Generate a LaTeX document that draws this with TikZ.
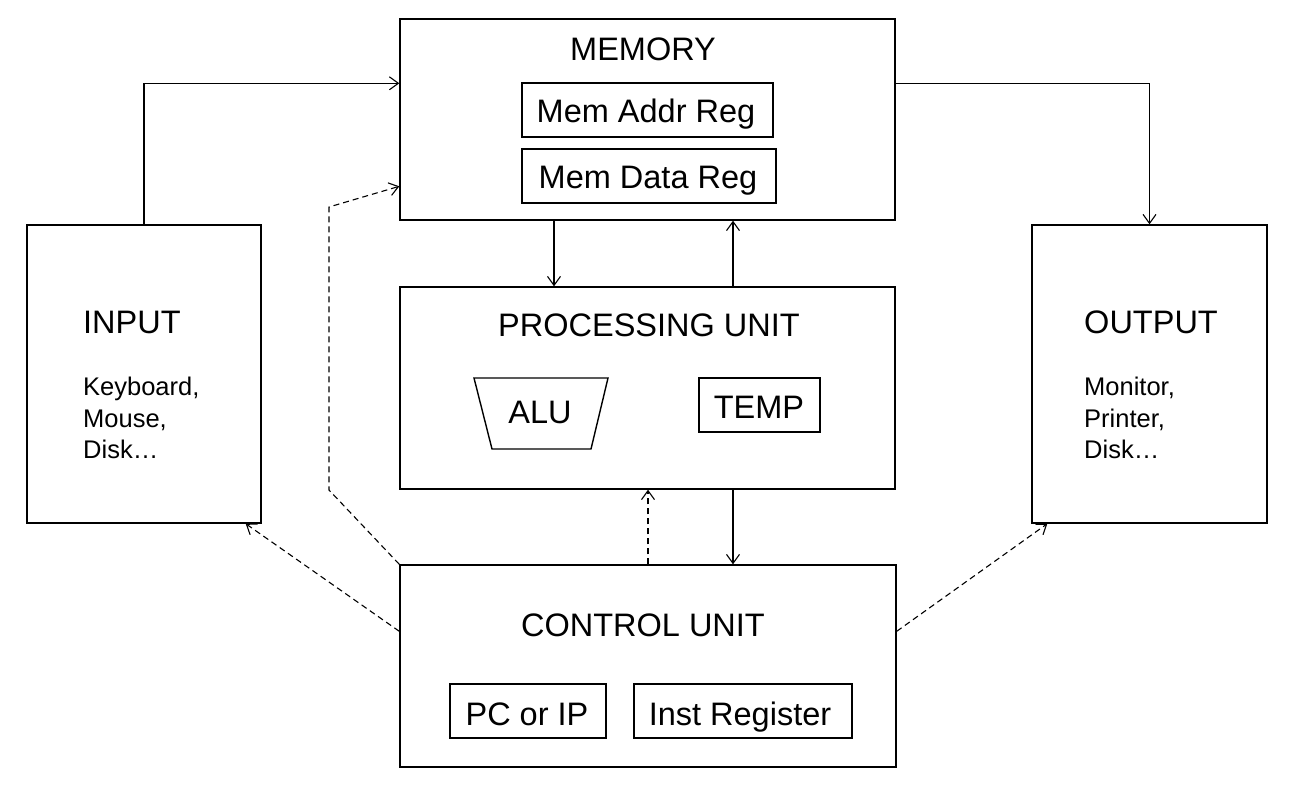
\documentclass[tikz,border=0pt]{standalone}
\usepackage{fontspec}
\setmainfont{Liberation Sans}
\usetikzlibrary{arrows.meta}
\begin{document}
\begin{tikzpicture}[x=1pt,y=-1pt,
  box/.style={draw, line width=1.4pt, rectangle, inner sep=0pt},
  big/.style={font=\fontsize{32.5}{38}\selectfont, inner sep=0pt},
  small/.style={font=\fontsize{25.5}{31}\selectfont, inner sep=0pt},
  arr/.style={line width=1.1pt, -{Straight Barb[length=9pt,width=13pt,line width=1.1pt]}},
  darr/.style={arr, dash pattern=on 6pt off 4pt}]
\useasboundingbox (0,0) rectangle (1292,790);
% boxes
\node[box, minimum width=495pt, minimum height=201pt] (mem) at (647.5,119.5) {};
\node[box, minimum width=251pt, minimum height=54pt] (mar) at (647.5,110) {};
\node[box, minimum width=254pt, minimum height=54pt] (mdr) at (649,176) {};
\node[box, minimum width=234pt, minimum height=298pt] (input) at (144,374) {};
\node[box, minimum width=235pt, minimum height=298pt] (out) at (1149.5,374) {};
\node[box, minimum width=495pt, minimum height=202pt] (proc) at (647.5,388) {};
\node[box, minimum width=121pt, minimum height=54pt] (temp) at (759.5,405) {};
\node[box, minimum width=496pt, minimum height=202pt] (ctrl) at (648,666) {};
\node[box, minimum width=156pt, minimum height=54pt] (pc) at (528,711) {};
\node[box, minimum width=218pt, minimum height=54pt] (ir) at (743,711) {};
% ALU trapezoid
\draw[line width=1.4pt] (474,378) -- (608,378) -- (591,449) -- (492,449) -- cycle;
% texts
\node[big, anchor=base] (tmem) at (643,60) {MEMORY};
\node[big, anchor=base] (tmar) at (646,122) {Mem Addr Reg};
\node[big, anchor=base] (tmdr) at (648,188) {Mem Data Reg};
\node[big, anchor=base] (tproc) at (649,336) {PROCESSING UNIT};
\node[big, anchor=base] (talu) at (540,423) {ALU};
\node[big, anchor=base] (ttemp) at (759,418) {TEMP};
\node[big, anchor=base] (tctrl) at (643,636) {CONTROL UNIT};
\node[big, anchor=base] (tpc) at (527,725) {PC or IP};
\node[big, anchor=base] (tir) at (740,725) {Inst Register};
\node[big, anchor=base west] (tin) at (83,333) {INPUT};
\node[small, anchor=base west] (in1) at (83,395) {Keyboard,};
\node[small, anchor=base west] (in2) at (83,427) {Mouse,};
\node[small, anchor=base west] (in3) at (83,458) {Disk…};
\node[big, anchor=base west] (tout) at (1084,333) {OUTPUT};
\node[small, anchor=base west] (out1) at (1084,395) {Monitor,};
\node[small, anchor=base west] (out2) at (1084,427) {Printer,};
\node[small, anchor=base west] (out3) at (1084,458) {Disk…};
% helper coordinates
\coordinate (xa) at (554,0);
\coordinate (xb) at (733,0);
\coordinate (xc) at (648,0);
\coordinate (d1) at (329,490);
\coordinate (d2) at (329,207);
% connectors
\draw[arr] (input.north) |- ([yshift=-65pt]mem.north west);
\draw[arr] ([yshift=-65pt]mem.north east) -| (out.north);
\draw[darr] (ctrl.north west) -- (d1) -- (d2) -- ([yshift=-168pt]mem.north west);
\draw[darr] ([yshift=-67pt]ctrl.north west) -- ([xshift=-16pt]input.south east);
\draw[darr] ([yshift=-67pt]ctrl.north east) -- ([xshift=16pt]out.south west);
\draw[arr] (mem.south -| xa) -- (proc.north -| xa);
\draw[arr] (proc.north -| xb) -- (mem.south -| xb);
\draw[arr] (proc.south -| xb) -- (ctrl.north -| xb);
\draw[darr] (ctrl.north -| xc) -- (proc.south -| xc);
\end{tikzpicture}
\end{document}
